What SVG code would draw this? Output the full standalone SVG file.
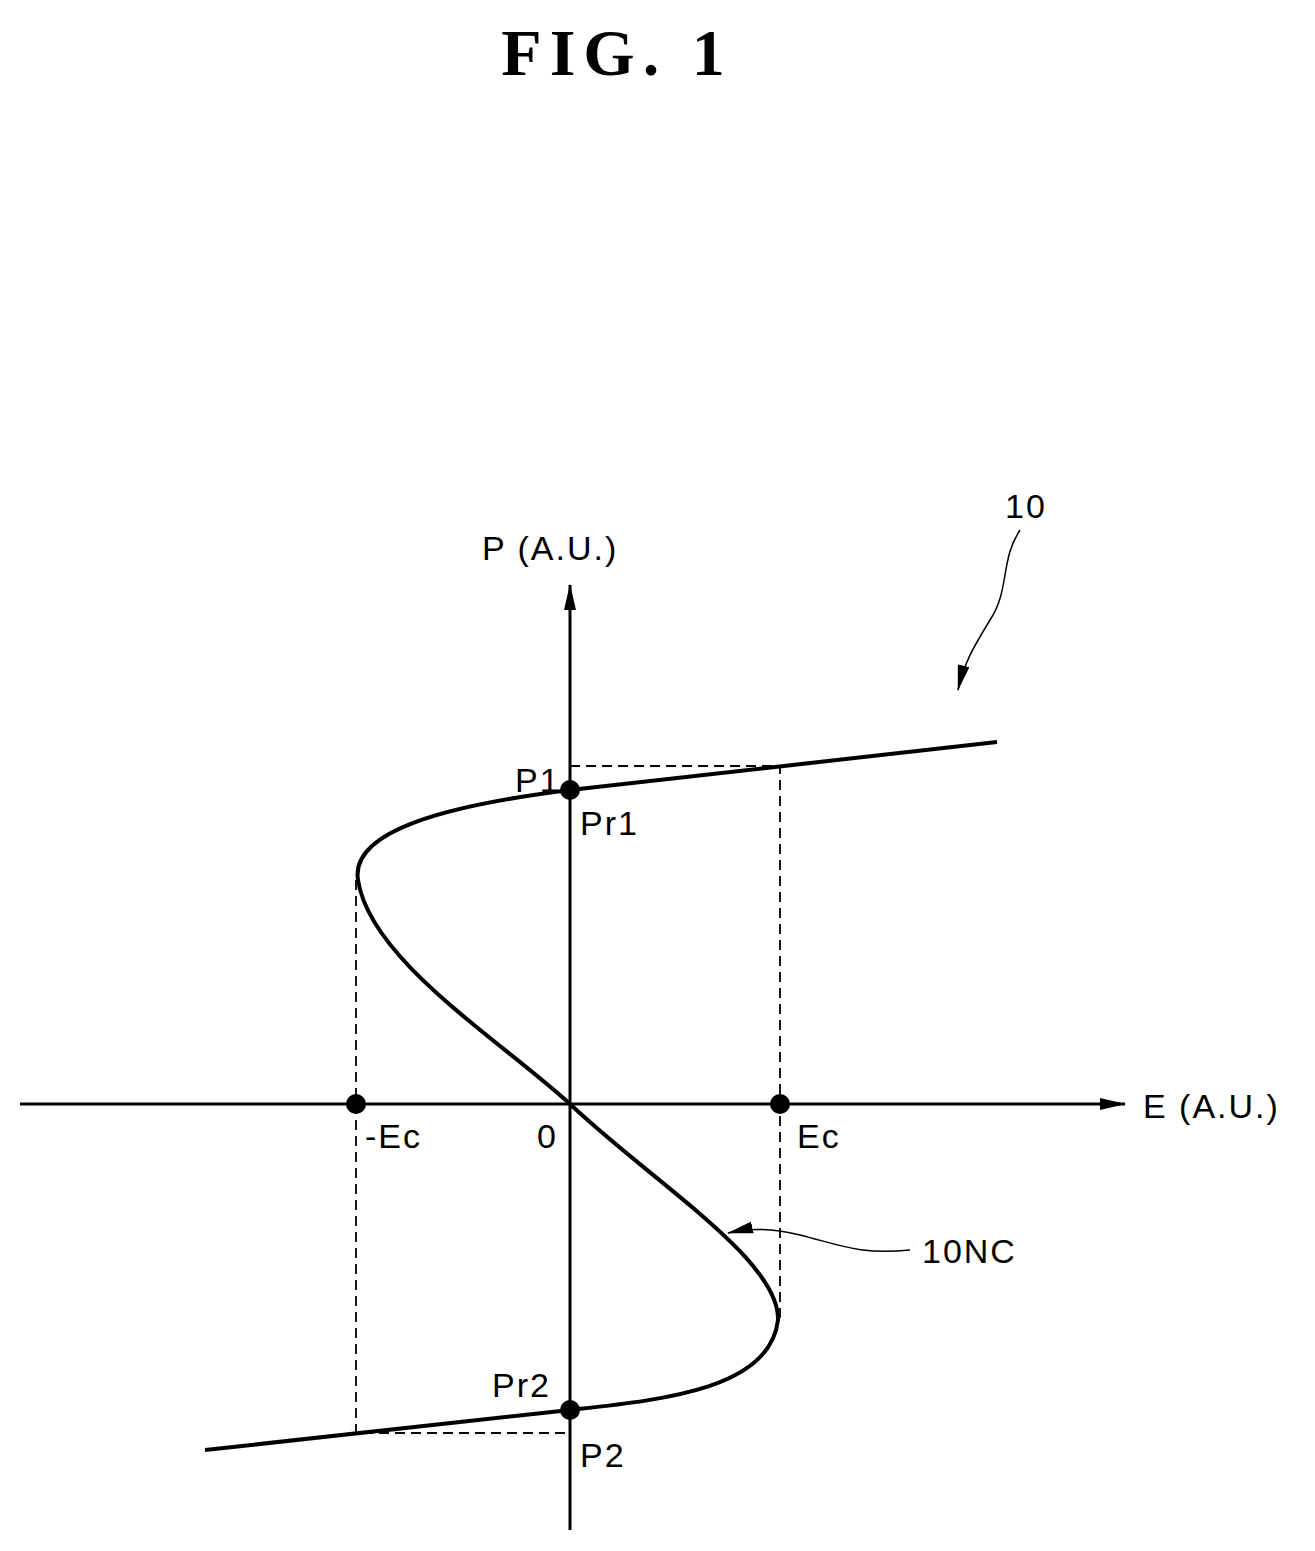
<svg xmlns="http://www.w3.org/2000/svg" width="1315" height="1551" viewBox="0 0 1315 1551">
<style>
.t{font-family:"Liberation Sans",Arial,sans-serif;font-size:34px;letter-spacing:2px;fill:#000}
.ax{stroke:#000;stroke-width:3;fill:none}
.d{stroke:#000;stroke-width:1.8;stroke-dasharray:10,6;fill:none}
.c{stroke:#000;stroke-width:4;fill:none}
.l{stroke:#000;stroke-width:1.5;fill:none}
</style>
<defs>
<marker id="b" markerWidth="26" markerHeight="12" refX="25" refY="6" orient="auto" markerUnits="userSpaceOnUse"><path d="M0,0L26,6L0,12z"/></marker>
</defs>
<text x="617" y="75" text-anchor="middle" style="font-family:'Liberation Serif',serif;font-size:66px;font-weight:bold;letter-spacing:8px">FIG. 1</text>
<g id="axes">
<line class="ax" x1="570" y1="1530" x2="570" y2="585" marker-end="url(#b)"/>
<line class="ax" x1="20" y1="1104" x2="1125" y2="1104" marker-end="url(#b)"/>
</g>
<g id="curve"><path class="c" d="M997,742 L570,790 C450,805 350,830 358,880 C370,960 500,1040 570,1104 C650,1180 780,1260 778,1320 C770,1390 660,1400 570,1410 L205,1450"/></g>
<g id="connectors">
<path class="d" d="M570,766H780V1320"/>
<path class="d" d="M356,880V1433H570"/>
<path class="l" d="M1020,530 C1000,560 1010,590 990,620 C975,645 965,660 958,690" marker-end="url(#b)"/>
<path class="l" d="M910,1250 C860,1255 840,1245 800,1235 C770,1228 750,1228 728,1233" marker-end="url(#b)"/>
</g>
<g id="dots">
<circle cx="570" cy="790" r="10"/><circle cx="356" cy="1104" r="10"/><circle cx="780" cy="1104" r="10"/><circle cx="570" cy="1410" r="10"/>
</g>
<g id="labels">
<text class="t" x="482" y="560">P (A.U.)</text>
<text class="t" x="1143" y="1118">E (A.U.)</text>
<text class="t" x="1005" y="518">10</text>
<text class="t" x="922" y="1263">10NC</text>
<text class="t" x="515" y="792">P1</text>
<text class="t" x="580" y="835">Pr1</text>
<text class="t" x="492" y="1397">Pr2</text>
<text class="t" x="580" y="1467">P2</text>
<text class="t" x="365" y="1148">-Ec</text>
<text class="t" x="537" y="1148">0</text>
<text class="t" x="797" y="1148">Ec</text>
</g>
</svg>
